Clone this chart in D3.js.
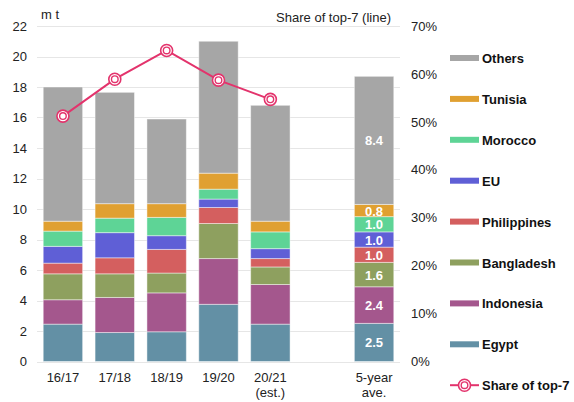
<!DOCTYPE html>
<html>
<head>
<meta charset="utf-8">
<script src="https://cdn.jsdelivr.net/npm/d3@7"></script>
<style>
  body { margin: 0; background: #fff; }
  svg text { font-family: "Liberation Sans", Arial, sans-serif; }
</style>
</head>
<body>
<svg id="chart" width="574" height="402"></svg>
<script>
// categories (empty slot before the average bar)
var categories = ["16/17", "17/18", "18/19", "19/20", "20/21", "gap", "5-year"];
var catLabels = [["16/17"], ["17/18"], ["18/19"], ["19/20"], ["20/21", "(est.)"], [""], ["5-year", "ave."]];

var seriesNames = ["Egypt", "Indonesia", "Bangladesh", "Philippines", "EU", "Morocco", "Tunisia", "Others"];
var seriesColors = ["#6390a5", "#a4578d", "#8ea05f", "#d45f5f", "#5f5fd6", "#5ed496", "#e0a031", "#a6a6a6"];

var egypt       = [2.45, 1.9, 1.95, 3.75, 2.45, null, 2.5];
var indonesia   = [1.6, 2.3, 2.55, 3.0, 2.6, null, 2.4];
var bangladesh  = [1.7, 1.55, 1.3, 2.3, 1.15, null, 1.6];
var philippines = [0.7, 1.05, 1.55, 1.05, 0.55, null, 1.0];
var eu          = [1.1, 1.65, 0.9, 0.55, 0.65, null, 1.0];
var morocco     = [1.0, 0.95, 1.2, 0.65, 1.1, null, 1.0];
var tunisia     = [0.65, 0.95, 0.9, 1.05, 0.7, null, 0.8];
var others      = [8.8, 7.3, 5.55, 8.65, 7.6, null, 8.4];

var shareTop7 = [51.2, 58.9, 64.9, 58.7, 54.7];

var leftTicks = [0, 2, 4, 6, 8, 10, 12, 14, 16, 18, 20, 22];
var rightTicks = [0, 10, 20, 30, 40, 50, 60, 70];

var seriesData = [egypt, indonesia, bangladesh, philippines, eu, morocco, tunisia, others];

var svg = d3.select("#chart");
var plotLeft = 37, plotRight = 400, plotTop = 26, plotBottom = 361.5;

var x = d3.scaleBand().domain(categories).range([plotLeft, plotRight]).paddingInner(0.24).paddingOuter(0.12);
var y = d3.scaleLinear().domain([0, 22]).range([plotBottom, plotTop]);
var y2 = d3.scaleLinear().domain([0, 70]).range([plotBottom, plotTop]);

// gridlines
svg.append("g").selectAll("line")
  .data(leftTicks)
  .enter().append("line")
  .attr("x1", plotLeft).attr("x2", plotRight)
  .attr("y1", function(d) { return Math.round(y(d)) + 0.5; })
  .attr("y2", function(d) { return Math.round(y(d)) + 0.5; })
  .attr("stroke", "#e6e6e6").attr("stroke-width", 1);

// left axis
var yAxis = svg.append("g")
  .attr("transform", "translate(" + plotLeft + ",0)")
  .call(d3.axisLeft(y).tickValues(leftTicks).tickSize(0).tickPadding(10));
yAxis.select(".domain").remove();
yAxis.selectAll("text").attr("font-size", 13).attr("fill", "#222");

// right axis
var y2Axis = svg.append("g")
  .attr("transform", "translate(" + (plotRight + 11) + ",0)")
  .call(d3.axisRight(y2).tickValues(rightTicks).tickSize(0).tickPadding(0)
    .tickFormat(function(d) { return d + "%"; }));
y2Axis.select(".domain").remove();
y2Axis.selectAll("text").attr("font-size", 13).attr("fill", "#222");

// x labels
categories.forEach(function(c, i) {
  var t = svg.append("text")
    .attr("x", x(c) + x.bandwidth() / 2)
    .attr("y", 382)
    .attr("text-anchor", "middle")
    .attr("font-size", 13)
    .attr("fill", "#222");
  catLabels[i].forEach(function(line, j) {
    t.append("tspan").attr("x", x(c) + x.bandwidth() / 2).attr("dy", j === 0 ? 0 : 15).text(line);
  });
});

// stacked bars
categories.forEach(function(c, i) {
  if (egypt[i] === null) return;
  var base = 0;
  seriesData.forEach(function(s, k) {
    var v = s[i];
    svg.append("rect")
      .attr("x", x(c))
      .attr("y", y(base + v))
      .attr("width", x.bandwidth())
      .attr("height", y(base) - y(base + v))
      .attr("fill", seriesColors[k])
      .attr("stroke", "rgba(255,255,255,0.45)")
      .attr("stroke-width", 1);
    if (c === "5-year") {
      svg.append("text")
        .attr("x", x(c) + x.bandwidth() / 2)
        .attr("y", y(base + v / 2) + 5)
        .attr("text-anchor", "middle")
        .attr("font-size", 13)
        .attr("font-weight", "bold")
        .attr("fill", "#fff")
        .text(v.toFixed(1));
    }
    base += v;
  });
});

// share line
var lineCats = categories.slice(0, 5);
var line = d3.line()
  .x(function(d, i) { return x(lineCats[i]) + x.bandwidth() / 2; })
  .y(function(d) { return y2(d); });

svg.append("path")
  .datum(shareTop7)
  .attr("d", line)
  .attr("fill", "none")
  .attr("stroke", "#e3336c")
  .attr("stroke-width", 2);

function marker(g, cx, cy) {
  g.append("circle").attr("cx", cx).attr("cy", cy).attr("r", 6)
    .attr("fill", "#fff").attr("stroke", "#e3336c").attr("stroke-width", 1.6);
  g.append("circle").attr("cx", cx).attr("cy", cy).attr("r", 3.3)
    .attr("fill", "#fff").attr("stroke", "#e3336c").attr("stroke-width", 1.4);
}
shareTop7.forEach(function(d, i) {
  marker(svg, x(lineCats[i]) + x.bandwidth() / 2, y2(d));
});

// titles
svg.append("text").attr("x", 41).attr("y", 19).attr("font-size", 13).attr("fill", "#222").text("m t");
svg.append("text").attr("x", 391).attr("y", 22).attr("text-anchor", "end").attr("font-size", 13).attr("fill", "#222").text("Share of top-7 (line)");

// legend
var legendNames = seriesNames.slice().reverse();
var legendColors = seriesColors.slice().reverse();
var legendTop = 58, legendStep = 40.9;
legendNames.forEach(function(n, i) {
  var ly = legendTop + i * legendStep;
  svg.append("rect").attr("x", 450).attr("y", ly - 3).attr("width", 29).attr("height", 6).attr("fill", legendColors[i]);
  svg.append("text").attr("x", 482).attr("y", ly + 5).attr("font-size", 13).attr("font-weight", "bold").attr("fill", "#111").text(n);
});
var ly = legendTop + 8 * legendStep;
svg.append("line").attr("x1", 450).attr("x2", 479).attr("y1", ly).attr("y2", ly).attr("stroke", "#e3336c").attr("stroke-width", 2);
marker(svg, 464.5, ly);
svg.append("text").attr("x", 482).attr("y", ly + 5).attr("font-size", 13).attr("font-weight", "bold").attr("fill", "#111").text("Share of top-7");
</script>
</body>
</html>
